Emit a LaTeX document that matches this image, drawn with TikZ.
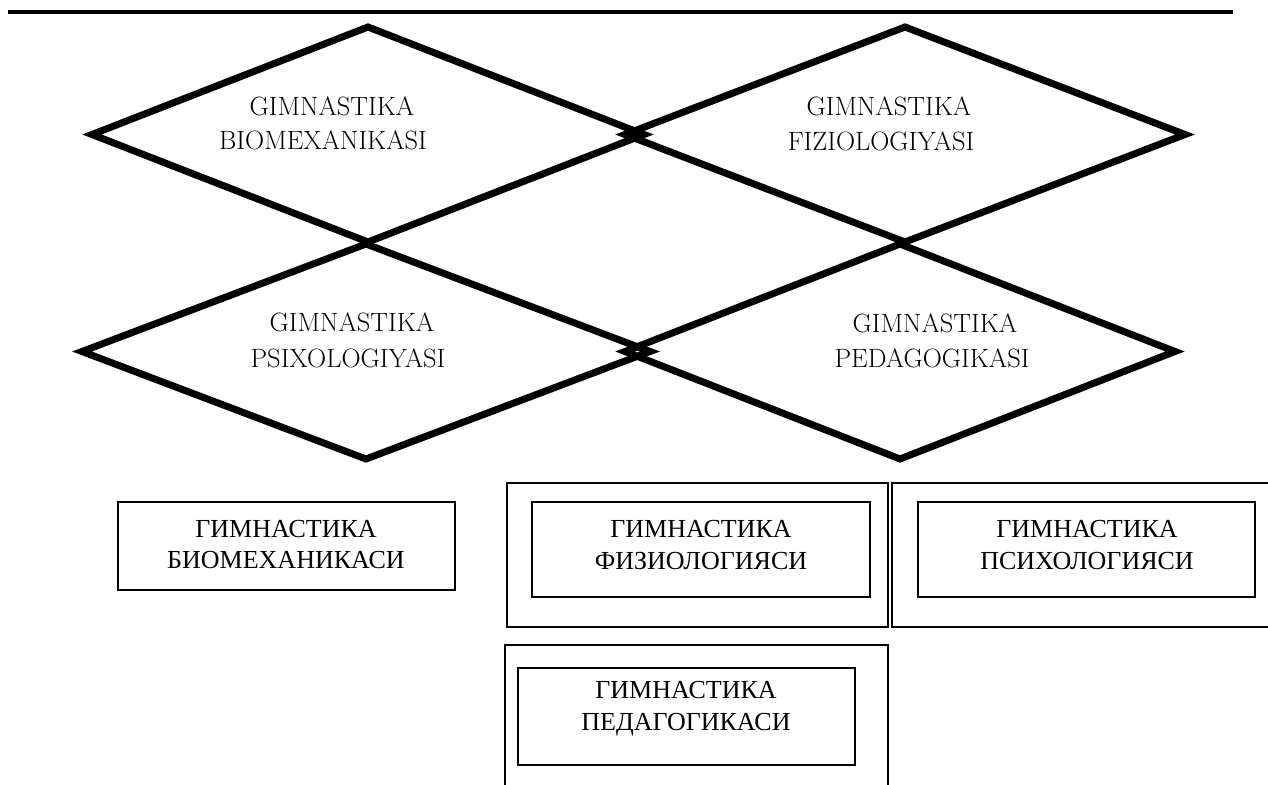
\documentclass[tikz,border=0pt]{standalone}
\usepackage{fontspec}
\newfontfamily\cyrfont{Liberation Serif}
\usetikzlibrary{shapes.geometric}
\begin{document}
\begin{tikzpicture}[x=1pt,y=-1pt,
  dia/.style={draw, shape=diamond, line width=7pt, inner sep=0pt, outer sep=0pt},
  dtext/.style={anchor=base, inner sep=0pt, font=\fontsize{26.5}{34}\selectfont},
  box/.style={draw, line width=1.8pt, inner sep=0pt, outer sep=0pt},
  btext/.style={anchor=base, inner sep=0pt, font=\cyrfont\fontsize{26}{32}\selectfont}]
\useasboundingbox (0,0) rectangle (1268,784);
% top rule
\coordinate (ruleL) at (8,12);
\coordinate (ruleR) at (1233,12);
\draw[line width=4pt] (ruleL) -- (ruleR);
% diamonds
\node[dia, minimum width=552pt, minimum height=215pt] (dTL) at (368,134.5) {};
\node[dia, minimum width=560pt, minimum height=215pt] (dTR) at (905,134.5) {};
\node[dia, minimum width=568pt, minimum height=215pt] (dBL) at (366,351.5) {};
\node[dia, minimum width=550pt, minimum height=215pt] (dBR) at (900,351.5) {};
% diamond texts
\node[dtext] (tTLa) at (332,115) {GIMNASTIKA};
\node[dtext] (tTLb) at (323,149) {BIOMEXANIKASI};
\node[dtext] (tTRa) at (889,115) {GIMNASTIKA};
\node[dtext] (tTRb) at (881,150) {FIZIOLOGIYASI};
\node[dtext] (tBLa) at (352,331) {GIMNASTIKA};
\node[dtext] (tBLb) at (348,367) {PSIXOLOGIYASI};
\node[dtext] (tBRa) at (935,332) {GIMNASTIKA};
\node[dtext] (tBRb) at (932,367) {PEDAGOGIKASI};
% boxes
\node[box, minimum width=337pt, minimum height=88pt] (b1) at (286.5,546) {};
\node[box, minimum width=381pt, minimum height=144pt] (o2) at (697.5,555) {};
\node[box, minimum width=338pt, minimum height=95pt] (i2) at (701,549.5) {};
\node[box, minimum width=388pt, minimum height=144pt] (o3) at (1086,555) {};
\node[box, minimum width=337pt, minimum height=95pt] (i3) at (1086.5,549.5) {};
\node[box, minimum width=383pt, minimum height=155pt] (o4) at (696.5,722.5) {};
\node[box, minimum width=337pt, minimum height=97pt] (i4) at (686.5,716.5) {};
% box texts
\node[btext] (x1a) at (286,537) {ГИМНАСТИКА};
\node[btext] (x1b) at (286,568) {БИОМЕХАНИКАСИ};
\node[btext] (x2a) at (701,537) {ГИМНАСТИКА};
\node[btext] (x2b) at (701,569) {ФИЗИОЛОГИЯСИ};
\node[btext] (x3a) at (1087,537) {ГИМНАСТИКА};
\node[btext] (x3b) at (1087,569) {ПСИХОЛОГИЯСИ};
\node[btext] (x4a) at (686,698) {ГИМНАСТИКА};
\node[btext] (x4b) at (686,730) {ПЕДАГОГИКАСИ};
\end{tikzpicture}
\end{document}
